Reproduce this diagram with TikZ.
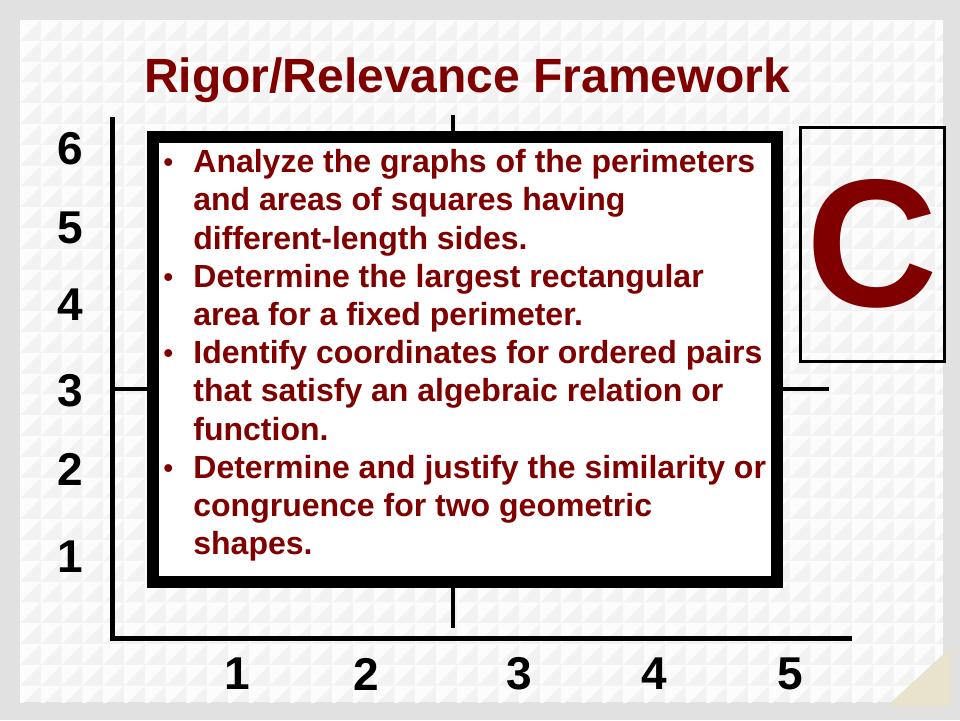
\documentclass[tikz,border=0pt]{standalone}
\usepackage{fontspec}
\setmainfont{Liberation Sans}
\usepackage{graphicx}
\usepackage{xcolor}
\usepackage{tikz}
\usetikzlibrary{positioning}

\definecolor{framered}{RGB}{128,0,0}
\definecolor{slidegray}{RGB}{225,225,225}
\definecolor{tiledark}{RGB}{242,242,242}
\definecolor{tilelight}{RGB}{252,252,252}
\definecolor{cornertan}{RGB}{231,227,204}

\newcommand{\bul}{\makebox[15.5pt][l]{\hspace*{0.6pt}\raisebox{0.6pt}{\scalebox{0.85}{\textbullet}}}}
\newcommand{\ind}{\hspace*{15.5pt}}

\begin{document}
\begin{tikzpicture}
[
  x = 0.5pt, y = -0.5pt,
  axis/.style      = {draw=black, line width=2.5pt},
  midline/.style   = {draw=black, line width=2pt},
  number/.style    = {font=\fontsize{23}{27}\selectfont\bfseries, inner sep=0pt},
  title/.style     = {font=\fontsize{24}{28}\selectfont\bfseries,
                      text=framered, inner sep=0pt},
  goalbox/.style   = {draw=black, fill=white, line width=6pt},
  goals/.style     = {font=\fontsize{16}{19.1}\selectfont\bfseries,
                      text=framered, align=left, inner sep=0pt},
  quadrant/.style  = {draw=black, line width=1.5pt, minimum width=72pt,
                      minimum height=117pt, inner sep=0pt,
                      font=\fontsize{91}{95}\selectfont\bfseries, text=framered}
]
\useasboundingbox (0,0) rectangle (960,720);
\fill[slidegray] (0,0) rectangle (960,720);
\fill[tiledark] (20,20) rectangle (943,702);
\begin{scope}
  \clip (20,20) rectangle (943,702);
  \fill[tilelight] \foreach \i in {0,...,44}{\foreach \j in {0,...,32}{
    (20+20.8*\i,20+20.8*\j) -- ++(20.8,0) -- ++(-20.8,20.8) -- cycle}};
\end{scope}
\fill[cornertan] (887,706) -- (950,706) -- (950,648) -- cycle;

% title
\node [title, anchor=base] (head) at (467,92) {Rigor/Relevance Framework};

% axes
\coordinate (ytop)  at (112.5,117);
\coordinate (orig)  at (112.5,638);
\coordinate (xend)  at (852,638);
\coordinate (vtop)  at (453,115);
\coordinate (vbot)  at (453,628);
\coordinate (hleft) at (112.5,389);
\coordinate (hright) at (829,389);
\draw [axis] (ytop) -- (orig) -- (xend);
\draw [midline] (vtop) -- (vbot);
\draw [midline] (hleft) -- (hright);

% row numbers
\node [number] (r6) at (70,149) {6};
\node [number] (r5) at (70,228) {5};
\node [number] (r4) at (70,305) {4};
\node [number] (r3) at (70,391) {3};
\node [number] (r2) at (70,469) {2};
\node [number] (r1) at (70,557) {1};

% column numbers
\node [number] (c1) at (237,674) {1};
\node [number] (c2) at (366,674) {2};
\node [number] (c3) at (519,674) {3};
\node [number] (c4) at (654,674) {4};
\node [number] (c5) at (790,674) {5};

% quadrant C
\node [quadrant] (quadC) at (872,244) {C};

% bullet box
\draw [goalbox] (152.5,136.5) rectangle (777,581.5);
\node [goals, anchor=north west] (goallist) at (162,149) {%
\bul Analyze the graphs of the perimeters\\
\ind and areas of squares having\\
\ind different-length sides.\\
\bul Determine the largest rectangular\\
\ind area for a fixed perimeter.\\
\bul Identify coordinates for ordered pairs\\
\ind that satisfy an algebraic relation or\\
\ind function.\\
\bul Determine and justify the similarity or\\
\ind congruence for two geometric\\
\ind shapes.};
\end{tikzpicture}
\end{document}
